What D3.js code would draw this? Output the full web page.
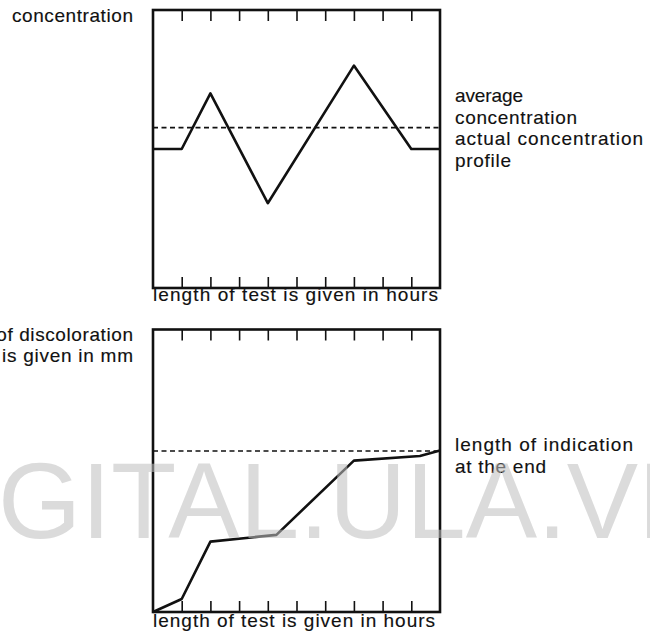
<!DOCTYPE html>
<html>
<head>
<meta charset="utf-8">
<script src="https://cdn.jsdelivr.net/npm/d3@7"></script>
<style>
  body { margin: 0; background: #fff; }
  text { font-family: "Liberation Sans", Arial, sans-serif; font-size: 19px; fill: #111; }
  .lbl { stroke: #111; stroke-width: 0.15px; }
</style>
</head>
<body>
<div id="viz"></div>
<script>
// values (x in test-hour ticks 0..10, y in % of frame height)
const tickHours = [1, 2, 3, 4, 5, 6, 7, 8, 9]
const profileHours = [0, 1, 2, 4, 7, 9, 10]
const profileConcentration = [50, 50, 70, 30.5, 80, 50, 50]
const averageConcentration = 57.7
const discolorHours = [0, 1, 2, 4.3, 7, 9.3, 10]
const discolorLength = [0, 4.6, 24.9, 27.3, 53.6, 55.2, 57.2]
const indicationLength = 57

const topLeftLabels = ["concentration"]
const topRightLabels = ["average", "concentration", "actual concentration", "profile"]
const bottomLeftLabels = ["length of discoloration", "is given in mm"]
const bottomRightLabels = ["length of indication", "at the end"]
const xLabel = "length of test is given in hours"
const watermark = "DIGITAL.ULA.VE"

const width = 650, height = 638

const svg = d3.select("#viz").append("svg")
    .attr("width", width)
    .attr("height", height)

svg.append("rect").attr("width", width).attr("height", height).attr("fill", "#fff")

const x = d3.scaleLinear().domain([0, 10]).range([153, 440])

// one framed panel: ticks on top and bottom edge, solid curve, dashed level
const panel = (top, bottom, xs, ys, level) => {
    const y = d3.scaleLinear().domain([0, 100]).range([bottom, top])
    const g = svg.append("g")

    g.append("g").attr("transform", `translate(0,${top})`)
        .call(d3.axisBottom(x).tickValues(tickHours).tickSize(11).tickFormat(""))
    g.append("g").attr("transform", `translate(0,${bottom})`)
        .call(d3.axisTop(x).tickValues(tickHours).tickSize(11).tickFormat(""))
    g.selectAll(".domain").remove()
    g.selectAll(".tick line").attr("stroke", "#111").attr("stroke-width", 1.6)

    g.append("line")
        .attr("x1", x(0)).attr("x2", x(10))
        .attr("y1", y(level)).attr("y2", y(level))
        .attr("stroke", "#111").attr("stroke-width", 1.7)
        .attr("stroke-dasharray", "5,3.5")

    const line = d3.line().x(d => x(d[0])).y(d => y(d[1]))
    g.append("path")
        .attr("d", line(d3.zip(xs, ys)))
        .attr("fill", "none").attr("stroke", "#111")
        .attr("stroke-width", 2.6).attr("stroke-linejoin", "round")

    g.append("rect")
        .attr("x", x(0)).attr("y", top)
        .attr("width", x(10) - x(0)).attr("height", bottom - top)
        .attr("fill", "none").attr("stroke", "#111").attr("stroke-width", 2.6)
}

panel(10, 288, profileHours, profileConcentration, averageConcentration)
panel(329.5, 612, discolorHours, discolorLength, indicationLength)

// text stretched to the widths measured on the scan
const label = (str, x0, y0, w) => svg.append("text")
    .attr("class", "lbl")
    .attr("x", x0).attr("y", y0)
    .attr("textLength", w).attr("lengthAdjust", "spacing")
    .text(str)

label(topLeftLabels[0], 12, 22, 121)
const trW = [68, 122, 188, 56]
topRightLabels.forEach((s, i) => label(s, 455, 102 + i * 21.5, trW[i]))
label(bottomLeftLabels[0], 133 - 198, 341, 198)
label(bottomLeftLabels[1], 2, 362, 131)
const brW = [178, 91]
bottomRightLabels.forEach((s, i) => label(s, 455, 451 + i * 22, brW[i]))
label(xLabel, 153, 301, 285)
label(xLabel, 153, 627, 282)

// scan watermark, sits over the drawing
const wm = svg.append("text")
    .attr("y", 538)
    .style("font-size", "107px")
    .style("fill", "rgb(190,190,190)")
    .style("fill-opacity", 0.56)
    .text(watermark)
wm.attr("x", -2 - wm.node().getSubStringLength(0, 2))
</script>
</body>
</html>
